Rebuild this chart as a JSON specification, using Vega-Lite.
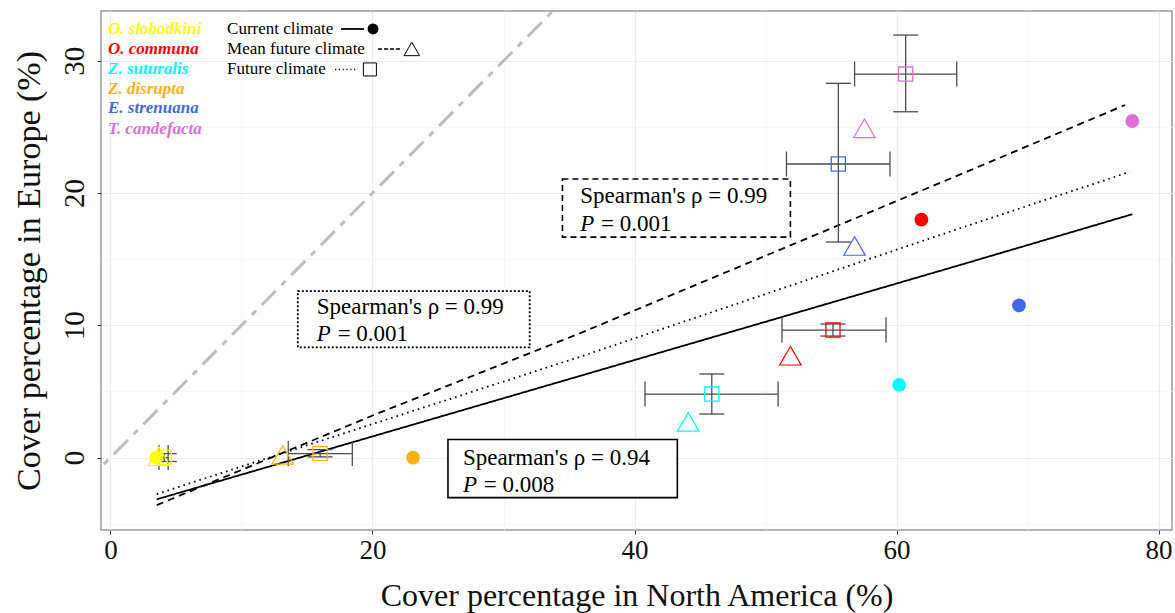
{
  "$schema": "https://vega.github.io/schema/vega-lite/v6.json",
  "width": 1071,
  "height": 519,
  "autosize": "none",
  "padding": {"left": 101, "top": 11, "right": 3, "bottom": 83},
  "background": "white",
  "config": {
    "font": "Liberation Serif",
    "view": {"stroke": "#9A9A9A", "strokeWidth": 1.5},
    "axis": {
      "domain": false,
      "labelFont": "Liberation Serif",
      "titleFont": "Liberation Serif",
      "labelColor": "#111111",
      "titleColor": "#111111",
      "tickColor": "#333333",
      "tickSize": 4,
      "titleFontWeight": "normal"
    }
  },
  "datasets": {
    "pts": [
      {"species": "O. slobodkini", "climate": "current", "x": 3.5, "y": 0},
      {"species": "O. communa", "climate": "current", "x": 61.9, "y": 18.0},
      {"species": "Z. suturalis", "climate": "current", "x": 60.2, "y": 5.5},
      {"species": "Z. disrupta", "climate": "current", "x": 23.1, "y": 0},
      {"species": "E. strenuana", "climate": "current", "x": 69.35, "y": 11.5},
      {"species": "T. candefacta", "climate": "current", "x": 78.0, "y": 25.45},
      {"species": "O. slobodkini", "climate": "mean", "x": 3.7, "y": 0.1},
      {"species": "O. communa", "climate": "mean", "x": 51.9, "y": 7.7},
      {"species": "Z. suturalis", "climate": "mean", "x": 44.1, "y": 2.7},
      {"species": "Z. disrupta", "climate": "mean", "x": 13.15, "y": 0.2},
      {"species": "E. strenuana", "climate": "mean", "x": 56.8, "y": 16.0},
      {"species": "T. candefacta", "climate": "mean", "x": 57.55, "y": 24.9}
    ],
    "err": [
      {"species": "O. slobodkini", "x": 4.1, "y": 0.0, "xlo": 3.7, "xhi": 4.4, "ylo": -0.3, "yhi": 0.3},
      {"species": "O. communa", "x": 55.15, "y": 9.64, "xlo": 51.26, "xhi": 59.2, "ylo": 9.19, "yhi": 10.1},
      {"species": "Z. suturalis", "x": 45.9, "y": 4.8, "xlo": 40.8, "xhi": 50.96, "ylo": 3.29, "yhi": 6.32},
      {"species": "Z. disrupta", "x": 16.0, "y": 0.3, "xlo": 13.57, "xhi": 18.46, "ylo": 0.05, "yhi": 0.6},
      {"species": "E. strenuana", "x": 55.56, "y": 22.2, "xlo": 51.6, "xhi": 59.5, "ylo": 16.3, "yhi": 28.3},
      {"species": "T. candefacta", "x": 60.7, "y": 29.0, "xlo": 56.8, "xhi": 64.6, "ylo": 26.15, "yhi": 31.95}
    ],
    "fit": [
      {"fit": "current", "x": 3.53, "y": -3.16},
      {"fit": "current", "x": 35.8, "y": 6.16},
      {"fit": "current", "x": 64.85, "y": 14.56},
      {"fit": "current", "x": 78.0, "y": 18.4},
      {"fit": "future", "x": 3.53, "y": -2.76},
      {"fit": "future", "x": 35.84, "y": 7.62},
      {"fit": "future", "x": 64.85, "y": 17.34},
      {"fit": "future", "x": 77.8, "y": 21.6},
      {"fit": "mean", "x": 3.53, "y": -3.6},
      {"fit": "mean", "x": 20.06, "y": 3.2},
      {"fit": "mean", "x": 35.84, "y": 9.4},
      {"fit": "mean", "x": 64.6, "y": 21.3},
      {"fit": "mean", "x": 77.45, "y": 26.66}
    ]
  },
  "layer": [
    {
      "data": {"values": [{"x": -2, "y": -2}, {"x": 40, "y": 40}]},
      "mark": {"type": "line", "color": "#BDBDBD", "strokeWidth": 3, "strokeDash": [20, 8, 6, 8], "clip": true},
      "encoding": {
        "x": {"field": "x", "type": "quantitative", "scale": {"domain": [-0.725, 81.03], "nice": false, "zero": false},
          "axis": {
            "title": "Cover percentage in North America (%)",
            "values": [0, 10, 20, 30, 40, 50, 60, 70, 80],
            "labelExpr": "datum.value % 20 === 0 ? datum.label : ''",
            "gridColor": {"condition": {"test": "datum.value % 20 === 0", "value": "#EBEBEB"}, "value": "#F4F4F4"},
            "gridWidth": {"condition": {"test": "datum.value % 20 === 0", "value": 1.2}, "value": 0.7},
            "tickOpacity": {"condition": {"test": "datum.value % 20 === 0", "value": 1}, "value": 0},
            "labelFontSize": 27,
            "titleFontSize": 32,
            "labelPadding": 3,
            "titlePadding": 17
          }},
        "y": {"field": "y", "type": "quantitative", "scale": {"domain": [-5.48, 33.77], "nice": false, "zero": false},
          "axis": {
            "title": "Cover percentage in Europe (%)",
            "values": [-5, 0, 5, 10, 15, 20, 25, 30],
            "labelExpr": "datum.value % 10 === 0 ? datum.label : ''",
            "gridColor": {"condition": {"test": "datum.value % 10 === 0", "value": "#EBEBEB"}, "value": "#F4F4F4"},
            "gridWidth": {"condition": {"test": "datum.value % 10 === 0", "value": 1.2}, "value": 0.7},
            "tickOpacity": {"condition": {"test": "datum.value % 10 === 0", "value": 1}, "value": 0},
            "labelAngle": -90,
            "labelAlign": "center",
            "labelBaseline": "bottom",
            "labelFontSize": 29,
            "titleFontSize": 34,
            "labelPadding": 8,
            "titlePadding": 14
          }}
      }
    },
    {
      "data": {"name": "fit"},
      "mark": {"type": "line", "color": "black", "strokeWidth": 1.8},
      "encoding": {
        "x": {"field": "x", "type": "quantitative"},
        "y": {"field": "y", "type": "quantitative"},
        "strokeDash": {"field": "fit", "type": "nominal", "legend": null,
          "scale": {"domain": ["current", "mean", "future"], "range": [[1, 0], [7, 5], [1.6, 4]]}}
      }
    },
    {
      "data": {"values": [{"x1": 34.5, "x2": 51.9, "y1": 21.06, "y2": 16.67}]},
      "mark": {"type": "rect", "fill": "white", "stroke": "black", "strokeWidth": 1.6, "strokeDash": [6, 4]},
      "encoding": {
        "x": {"field": "x1", "type": "quantitative"},
        "x2": {"field": "x2"},
        "y": {"field": "y1", "type": "quantitative"},
        "y2": {"field": "y2"}
      }
    },
    {
      "data": {"values": [{"x1": 14.3, "x2": 32.0, "y1": 12.58, "y2": 8.33}]},
      "mark": {"type": "rect", "fill": "white", "stroke": "black", "strokeWidth": 1.8, "strokeDash": [2, 2]},
      "encoding": {
        "x": {"field": "x1", "type": "quantitative"},
        "x2": {"field": "x2"},
        "y": {"field": "y1", "type": "quantitative"},
        "y2": {"field": "y2"}
      }
    },
    {
      "data": {"values": [{"x1": 25.76, "x2": 43.27, "y1": 1.36, "y2": -3.03}]},
      "mark": {"type": "rect", "fill": "white", "stroke": "black", "strokeWidth": 1.6},
      "encoding": {
        "x": {"field": "x1", "type": "quantitative"},
        "x2": {"field": "x2"},
        "y": {"field": "y1", "type": "quantitative"},
        "y2": {"field": "y2"}
      }
    },
    {
      "data": {"values": [
        {"t": "Spearman's  ρ = 0.99", "x": 35.86, "y": 19.77},
        {"t": "Spearman's ρ = 0.99", "x": 15.75, "y": 11.36},
        {"t": "Spearman's  ρ = 0.94", "x": 26.9, "y": 0.0}
      ]},
      "mark": {"type": "text", "align": "left", "baseline": "middle", "fontSize": 23, "font": "Liberation Serif", "color": "black"},
      "encoding": {
        "x": {"field": "x", "type": "quantitative"},
        "y": {"field": "y", "type": "quantitative"},
        "text": {"field": "t"}
      }
    },
    {
      "data": {"values": [
        {"t": "P", "x": 35.86, "y": 17.65},
        {"t": "P", "x": 15.75, "y": 9.32},
        {"t": "P", "x": 26.9, "y": -2.05}
      ]},
      "mark": {"type": "text", "align": "left", "baseline": "middle", "fontSize": 23, "fontStyle": "italic", "font": "Liberation Serif", "color": "black"},
      "encoding": {
        "x": {"field": "x", "type": "quantitative"},
        "y": {"field": "y", "type": "quantitative"},
        "text": {"field": "t"}
      }
    },
    {
      "data": {"values": [
        {"t": "= 0.001", "x": 37.45, "y": 17.65},
        {"t": "= 0.001", "x": 17.34, "y": 9.32},
        {"t": "= 0.008", "x": 28.49, "y": -2.05}
      ]},
      "mark": {"type": "text", "align": "left", "baseline": "middle", "fontSize": 23, "font": "Liberation Serif", "color": "black"},
      "encoding": {
        "x": {"field": "x", "type": "quantitative"},
        "y": {"field": "y", "type": "quantitative"},
        "text": {"field": "t"}
      }
    },
    {
      "data": {"name": "err"},
      "mark": {"type": "rule", "color": "#4D4D4D", "strokeWidth": 1.3},
      "encoding": {
        "x": {"field": "xlo", "type": "quantitative"},
        "x2": {"field": "xhi"},
        "y": {"field": "y", "type": "quantitative"}
      }
    },
    {
      "data": {"name": "err"},
      "mark": {"type": "rule", "color": "#4D4D4D", "strokeWidth": 1.3},
      "encoding": {
        "x": {"field": "x", "type": "quantitative"},
        "y": {"field": "ylo", "type": "quantitative"},
        "y2": {"field": "yhi"}
      }
    },
    {
      "data": {"name": "err"},
      "mark": {"type": "tick", "orient": "vertical", "size": 25, "thickness": 1.3, "color": "#4D4D4D", "opacity": 1},
      "encoding": {
        "x": {"field": "xlo", "type": "quantitative"},
        "y": {"field": "y", "type": "quantitative"}
      }
    },
    {
      "data": {"name": "err"},
      "mark": {"type": "tick", "orient": "vertical", "size": 25, "thickness": 1.3, "color": "#4D4D4D", "opacity": 1},
      "encoding": {
        "x": {"field": "xhi", "type": "quantitative"},
        "y": {"field": "y", "type": "quantitative"}
      }
    },
    {
      "data": {"name": "err"},
      "mark": {"type": "tick", "orient": "horizontal", "size": 25, "thickness": 1.3, "color": "#4D4D4D", "opacity": 1},
      "encoding": {
        "x": {"field": "x", "type": "quantitative"},
        "y": {"field": "ylo", "type": "quantitative"}
      }
    },
    {
      "data": {"name": "err"},
      "mark": {"type": "tick", "orient": "horizontal", "size": 25, "thickness": 1.3, "color": "#4D4D4D", "opacity": 1},
      "encoding": {
        "x": {"field": "x", "type": "quantitative"},
        "y": {"field": "yhi", "type": "quantitative"}
      }
    },
    {
      "data": {"name": "err"},
      "mark": {"type": "point", "shape": "square", "size": 200, "filled": false, "strokeWidth": 1.3, "opacity": 1},
      "encoding": {
        "x": {"field": "x", "type": "quantitative"},
        "y": {"field": "y", "type": "quantitative"},
        "color": {"field": "species", "type": "nominal", "legend": null,
          "scale": {"domain": ["O. slobodkini", "O. communa", "Z. suturalis", "Z. disrupta", "E. strenuana", "T. candefacta"],
                    "range": ["#FFFF00", "#FF0000", "#00FFFF", "#FFB20F", "#4169E1", "#DA70D6"]}}
      }
    },
    {
      "data": {"name": "pts"},
      "transform": [{"filter": "datum.climate === 'current'"}],
      "mark": {"type": "point", "shape": "circle", "size": 190, "filled": true, "opacity": 1},
      "encoding": {
        "x": {"field": "x", "type": "quantitative"},
        "y": {"field": "y", "type": "quantitative"},
        "color": {"field": "species", "type": "nominal", "legend": null}
      }
    },
    {
      "data": {"name": "pts"},
      "transform": [{"filter": "datum.climate === 'mean'"}],
      "mark": {"type": "point", "shape": "triangle-up", "size": 460, "filled": false, "strokeWidth": 1.2, "opacity": 1},
      "encoding": {
        "x": {"field": "x", "type": "quantitative"},
        "y": {"field": "y", "type": "quantitative"},
        "color": {"field": "species", "type": "nominal", "legend": null}
      }
    },
    {
      "data": {"values": [
        {"species": "O. slobodkini", "x": -0.19, "y": 32.41},
        {"species": "O. communa", "x": -0.19, "y": 30.9},
        {"species": "Z. suturalis", "x": -0.19, "y": 29.35},
        {"species": "Z. disrupta", "x": -0.19, "y": 27.84},
        {"species": "E. strenuana", "x": -0.19, "y": 26.4},
        {"species": "T. candefacta", "x": -0.19, "y": 24.85}
      ]},
      "mark": {"type": "text", "align": "left", "baseline": "middle", "fontSize": 17, "fontStyle": "italic", "fontWeight": "bold", "font": "Liberation Serif"},
      "encoding": {
        "x": {"field": "x", "type": "quantitative"},
        "y": {"field": "y", "type": "quantitative"},
        "text": {"field": "species"},
        "color": {"field": "species", "type": "nominal", "legend": null}
      }
    },
    {
      "data": {"values": [
        {"t": "Current climate", "x": 8.9, "y": 32.41},
        {"t": "Mean future climate", "x": 8.9, "y": 30.9},
        {"t": "Future climate", "x": 8.9, "y": 29.35}
      ]},
      "mark": {"type": "text", "align": "left", "baseline": "middle", "fontSize": 17, "font": "Liberation Serif", "color": "black"},
      "encoding": {
        "x": {"field": "x", "type": "quantitative"},
        "y": {"field": "y", "type": "quantitative"},
        "text": {"field": "t"}
      }
    },
    {
      "data": {"values": [{"x1": 17.6, "x2": 19.35, "y": 32.41}]},
      "mark": {"type": "rule", "color": "black", "strokeWidth": 1.8},
      "encoding": {
        "x": {"field": "x1", "type": "quantitative"},
        "x2": {"field": "x2"},
        "y": {"field": "y", "type": "quantitative"}
      }
    },
    {
      "data": {"values": [{"x1": 20.42, "x2": 22.1, "y": 30.9}]},
      "mark": {"type": "rule", "color": "black", "strokeWidth": 1.5, "strokeDash": [4, 2]},
      "encoding": {
        "x": {"field": "x1", "type": "quantitative"},
        "x2": {"field": "x2"},
        "y": {"field": "y", "type": "quantitative"}
      }
    },
    {
      "data": {"values": [{"x1": 17.14, "x2": 18.9, "y": 29.35}]},
      "mark": {"type": "rule", "color": "black", "strokeWidth": 1.5, "strokeDash": [1.2, 2.6]},
      "encoding": {
        "x": {"field": "x1", "type": "quantitative"},
        "x2": {"field": "x2"},
        "y": {"field": "y", "type": "quantitative"}
      }
    },
    {
      "data": {"values": [{"x": 20.04, "y": 32.41}]},
      "mark": {"type": "point", "shape": "circle", "size": 120, "filled": true, "color": "black", "opacity": 1},
      "encoding": {
        "x": {"field": "x", "type": "quantitative"},
        "y": {"field": "y", "type": "quantitative"}
      }
    },
    {
      "data": {"values": [{"x": 23.0, "y": 30.9}]},
      "mark": {"type": "point", "shape": "triangle-up", "size": 240, "filled": false, "color": "black", "strokeWidth": 1, "opacity": 1},
      "encoding": {
        "x": {"field": "x", "type": "quantitative"},
        "y": {"field": "y", "type": "quantitative"}
      }
    },
    {
      "data": {"values": [{"x": 19.8, "y": 29.35}]},
      "mark": {"type": "point", "shape": "square", "size": 170, "filled": false, "color": "black", "strokeWidth": 1, "opacity": 1},
      "encoding": {
        "x": {"field": "x", "type": "quantitative"},
        "y": {"field": "y", "type": "quantitative"}
      }
    }
  ]
}
